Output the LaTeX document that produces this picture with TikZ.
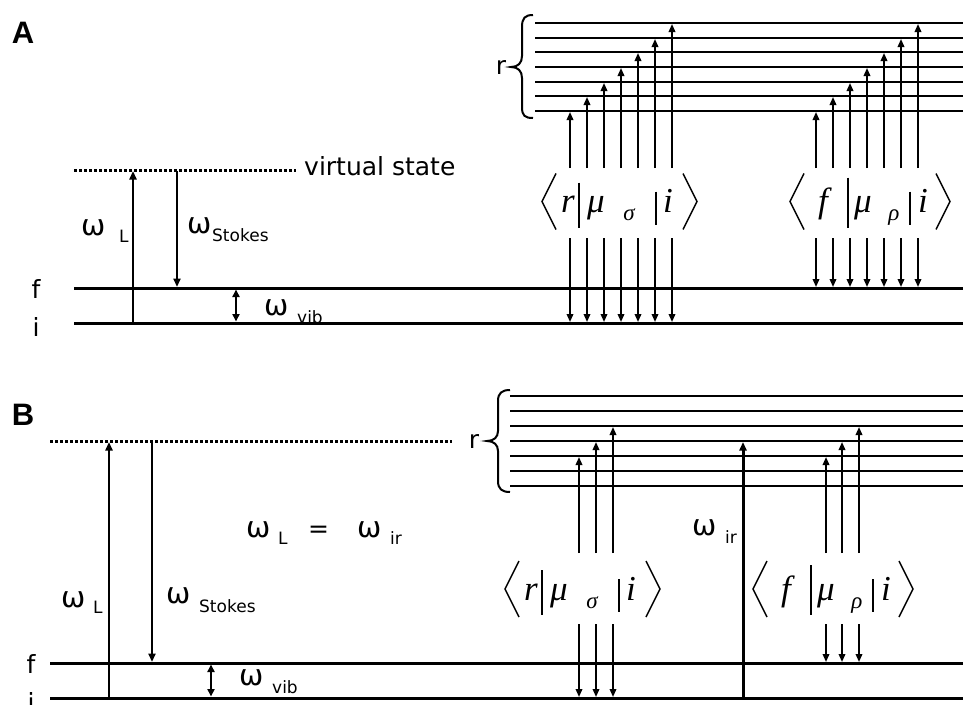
\documentclass[tikz,border=0pt]{standalone}
\usepackage{fontspec}
\setmainfont{DejaVu Sans}
\newfontfamily\dv{DejaVu Sans}
\newfontfamily\lsans{Liberation Sans}
\newfontfamily\tms{Liberation Serif}
\usetikzlibrary{arrows.meta}
\tikzset{
  lvl/.style={line width=3pt},
  rlvl/.style={line width=2.6pt},
  dotlvl/.style={line width=3pt, dash pattern=on 2.6pt off 2.4pt},
  tarrow/.style={line width=1.8pt, -{Triangle[length=8pt,width=6.5pt]}},
  barrow/.style={line width=2.6pt, -{Triangle[length=8.5pt,width=7pt]}},
  dbarrow/.style={line width=2.6pt, {Triangle[length=7.5pt,width=7pt]}-{Triangle[length=7.5pt,width=7pt]}},
  lab/.style={font={\dv\fontsize{25}{25}\selectfont}, inner sep=0pt, anchor=base west},
  om/.style={font={\dv\fontsize{29}{29}\selectfont}, inner sep=0pt, anchor=base west},
  sublab/.style={font={\dv\fontsize{17}{17}\selectfont}, inner sep=0pt, anchor=base west},
  panel/.style={font={\lsans\bfseries\fontsize{31}{31}\selectfont}, inner sep=0pt},
  ser/.style={font={\tms\itshape\fontsize{35}{35}\selectfont}, inner sep=0pt, anchor=base},
  sersub/.style={font={\tms\itshape\fontsize{23}{23}\selectfont}, inner sep=0pt, anchor=base},
  bk/.style={line width=1.4pt},
  brace/.style={line width=2pt},
  pics/braketr/.style={code={
    \draw[bk] (14,-28) -- (0,0) -- (14,28);
    \node[ser] (-a) at (26,11) {r};
    \draw[bk] (37,-19) -- (37,26);
    \node[ser] (-mu) at (54,11) {μ};
    \node[sersub] (-s) at (87,19) {σ};
    \draw[bk] (114,-10) -- (114,23);
    \node[ser] (-i) at (126,11) {i};
    \draw[bk] (141,-28) -- (155,0) -- (141,28);
  }},
  pics/braketf/.style={code={
    \draw[bk] (14,-28) -- (0,0) -- (14,28);
    \node[ser] (-a) at (33,11) {f};
    \draw[bk] (58,-24) -- (58,26);
    \node[ser] (-mu) at (73,11) {μ};
    \node[sersub] (-s) at (104,19) {ρ};
    \draw[bk] (120,-10) -- (120,23);
    \node[ser] (-i) at (133,11) {i};
    \draw[bk] (146,-28) -- (160,0) -- (146,28);
  }},
}
\begin{document}
\begin{tikzpicture}[x=1pt,y=-1pt]
\useasboundingbox (0,0) rectangle (963,704);
\fill[white] (0,0) rectangle (963,704);

% ================= Panel A =================
\node[panel] (labA) at (23,33) {A};
% r manifold
\foreach \y in {111,96,82,67,52,38,23} {
  \draw[rlvl] (535,\y) -- (963,\y);
}
\draw[brace] (533,15) .. controls (525,15) and (522,18) .. (522,27) -- (522,56)
  .. controls (522,63) and (518,67) .. (511,67)
  .. controls (518,67) and (522,71) .. (522,78) -- (522,107)
  .. controls (522,116) and (525,118) .. (533,118);
\node[lab, anchor=center] (rA) at (501,67) {r};
% f, i, virtual
\draw[lvl] (74,288) -- (963,288);
\draw[lvl] (74,323) -- (963,323);
\draw[dotlvl] (74,170) -- (296,170);
\node[lab] (vsA) at (304,175) {virtual state};
\node[lab, anchor=center] (fA) at (36,289) {f};
\node[lab, anchor=center] (iA) at (36,327) {i};
% omega arrows
\draw[barrow] (133,323) -- (133,171);
\draw[barrow] (177,171) -- (177,287);
\draw[dbarrow] (236,289.5) -- (236,321.5);
\node[om] (wLA) at (81,235) {ω};
\node[sublab] (wLAs) at (119,242) {L};
\node[om] (wSA) at (187,233) {ω};
\node[sublab] (wSAs) at (212,241) {Stokes};
\node[om] (wvA) at (264,315) {ω};
\node[sublab] (wvAs) at (297,323) {vib};
% excitation arrows
\foreach \x/\y in {570/112,587/97,604/83,621/68,638/53,655/39,672/24} {
  \draw[tarrow] (\x,168) -- (\x,\y);
  \draw[tarrow] (\x,238) -- (\x,322);
}
\foreach \x/\y in {816/112,833/97,850/83,867/68,884/53,901/39,918/24} {
  \draw[tarrow] (\x,168) -- (\x,\y);
  \draw[tarrow] (\x,238) -- (\x,287);
}
\pic (bkA1) at (542,201.5) {braketr};
\pic (bkA2) at (790,201.5) {braketf};

% ================= Panel B =================
\node[panel] (labB) at (23,415) {B};
\foreach \y in {486,471,456,441,426,411,396} {
  \draw[rlvl] (510,\y) -- (963,\y);
}
\draw[brace] (510,390) .. controls (502,390) and (498,393) .. (498,401) -- (498,431)
  .. controls (498,437) and (494,441) .. (487,441)
  .. controls (494,441) and (498,445) .. (498,451) -- (498,481)
  .. controls (498,489) and (502,492) .. (510,492);
\node[lab, anchor=center] (rB) at (474,441) {r};
\draw[lvl] (50,663) -- (963,663);
\draw[lvl] (50,698) -- (963,698);
\draw[dotlvl] (50,441) -- (452,441);
\node[lab, anchor=center] (fB) at (31,664) {f};
\node[lab, anchor=center] (iB) at (31,702) {i};
\draw[barrow] (109,698) -- (109,442);
\draw[barrow] (152,442) -- (152,662);
\draw[dbarrow] (211,664.5) -- (211,696.5);
\node[om] (wLB) at (61,607) {ω};
\node[sublab] (wLBs) at (93,613) {L};
\node[om] (wSB) at (166,603) {ω};
\node[sublab] (wSBs) at (199,612) {Stokes};
\node[om] (wvB) at (239,685) {ω};
\node[sublab] (wvBs) at (272,693) {vib};
\node[om] (eq1) at (246,537) {ω};
\node[sublab] (eq1s) at (278,544) {L};
\node[lab] (eq) at (308,537) {=};
\node[om] (eq2) at (357,537) {ω};
\node[sublab] (eq2s) at (390,544) {ir};
% omega_ir
\draw[line width=3pt, -{Triangle[length=8.5pt,width=7pt]}] (743,698) -- (743,442);
\node[om] (wir) at (692,535) {ω};
\node[sublab] (wirs) at (725,543) {ir};
\foreach \x/\y in {579/457,596/442,613/427} {
  \draw[tarrow] (\x,553) -- (\x,\y);
  \draw[tarrow] (\x,624) -- (\x,697);
}
\foreach \x/\y in {826/457,842/442,859/427} {
  \draw[tarrow] (\x,553) -- (\x,\y);
  \draw[tarrow] (\x,624) -- (\x,662);
}
\pic (bkB1) at (505,589) {braketr};
\pic (bkB2) at (753,589) {braketf};
\end{tikzpicture}
\end{document}
